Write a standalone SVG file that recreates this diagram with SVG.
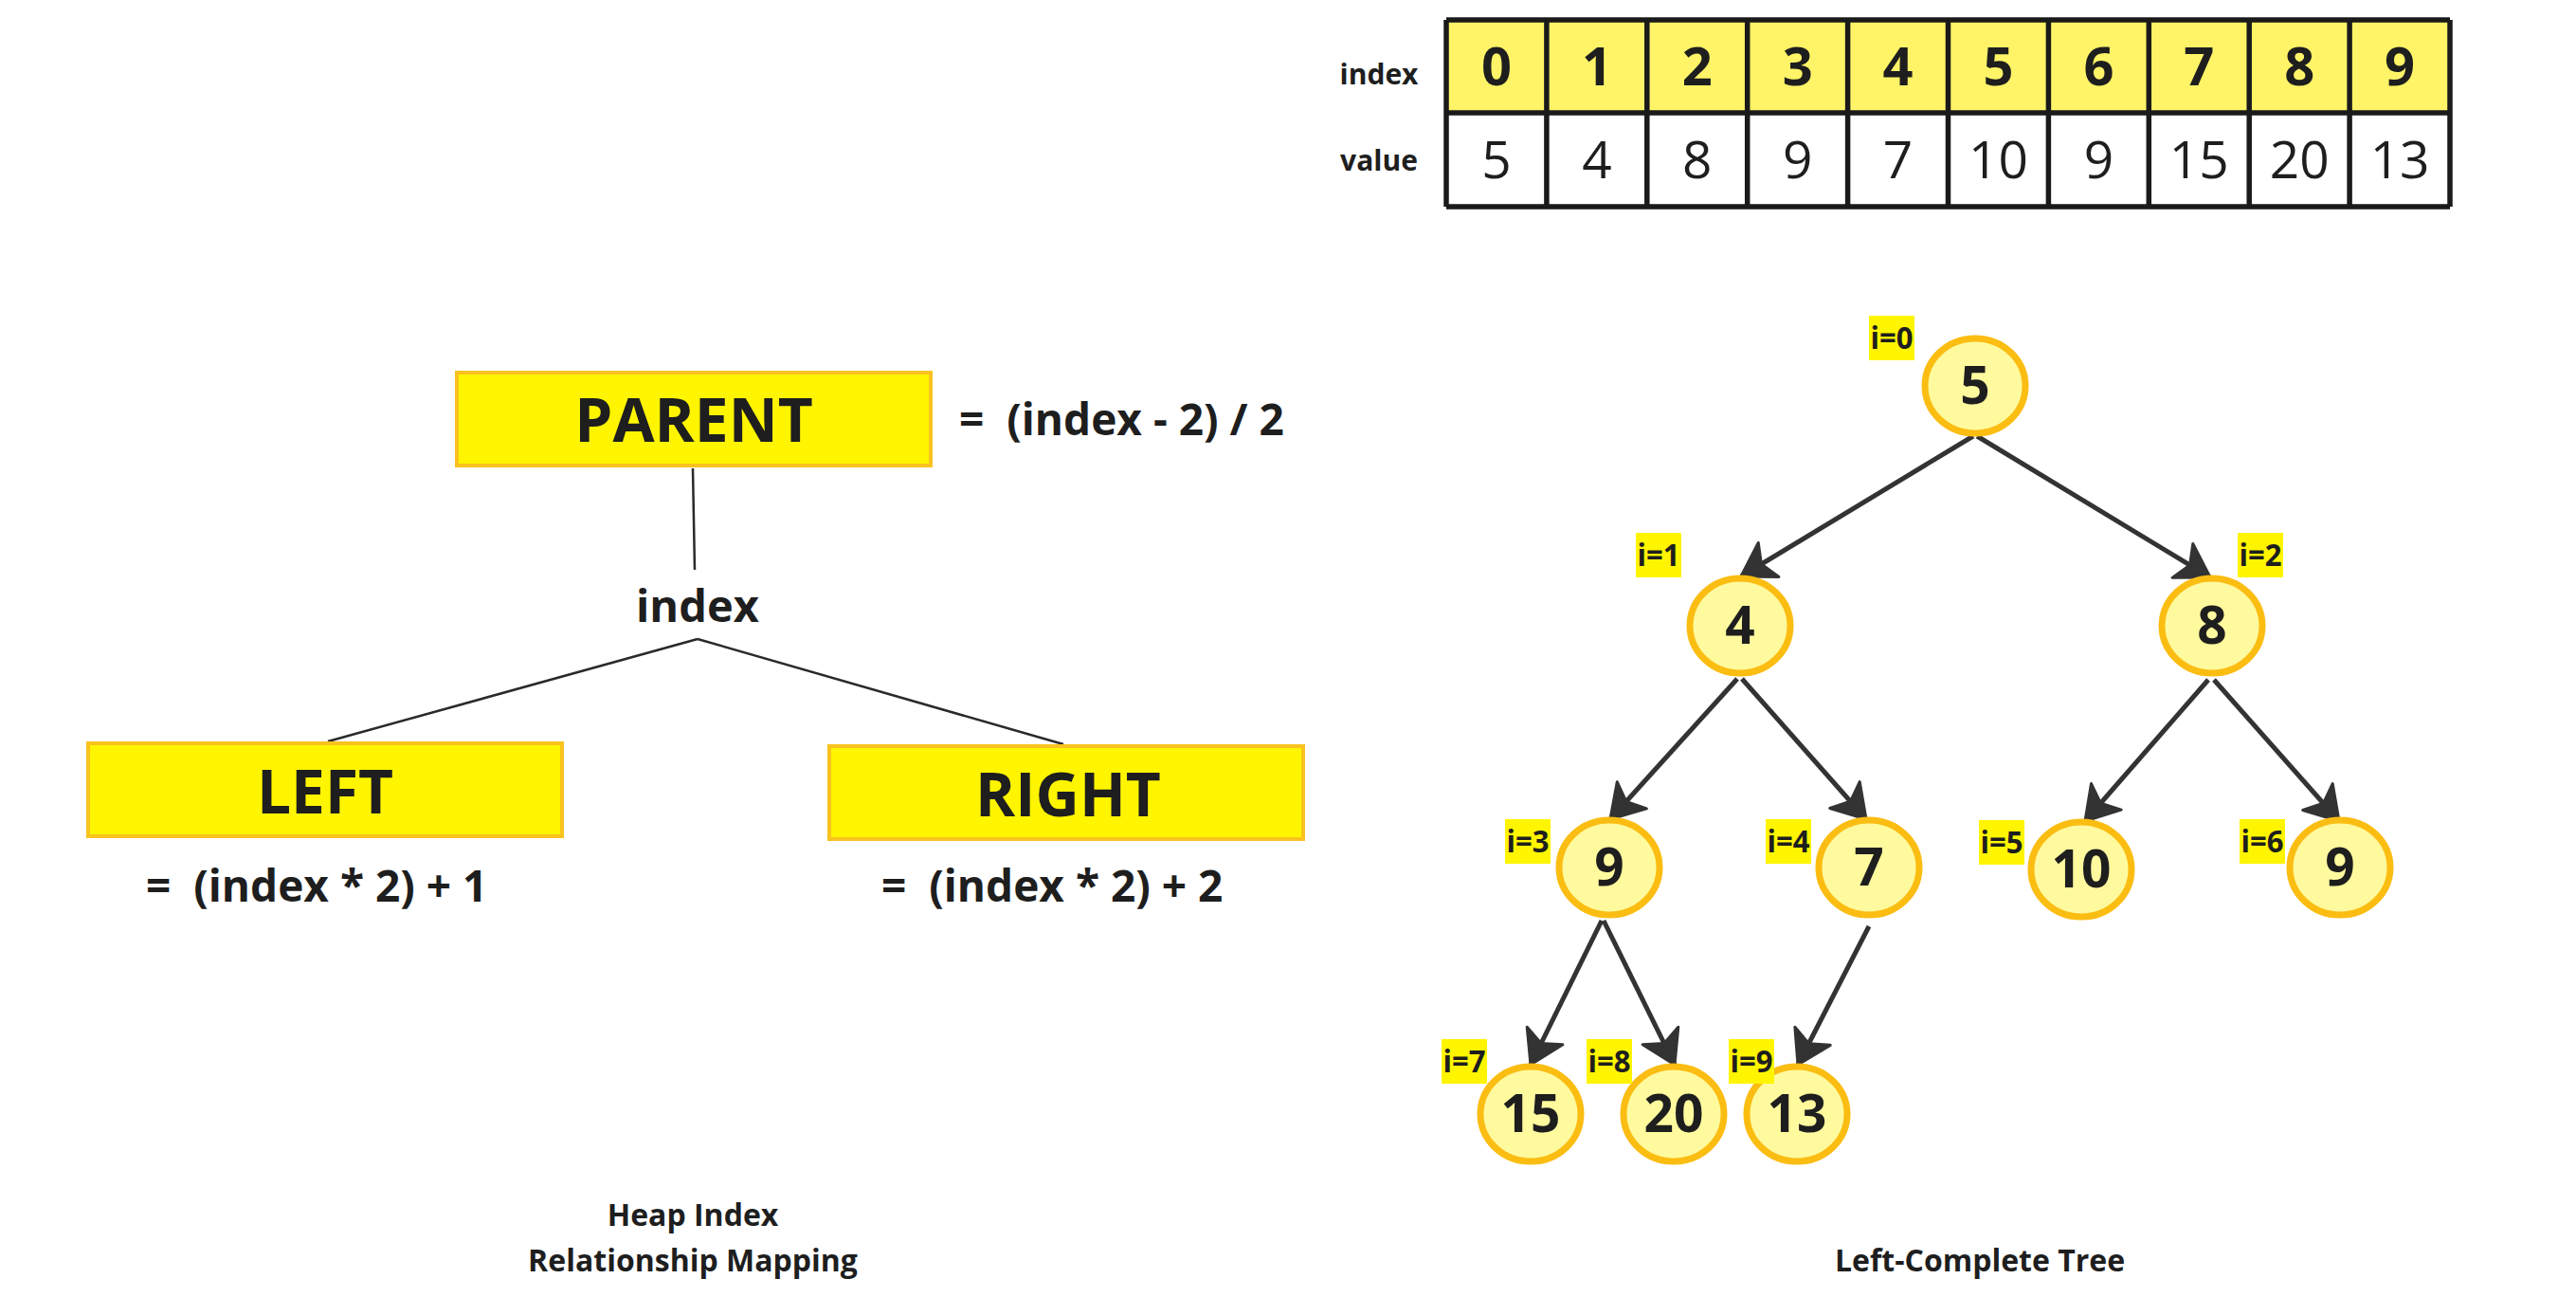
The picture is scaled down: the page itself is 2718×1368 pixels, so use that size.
<svg xmlns="http://www.w3.org/2000/svg" width="2718" height="1368" viewBox="0 0 2718 1368">
<style>
text{font-family:"Open Sans","Noto Sans","Liberation Sans",sans-serif;fill:#1e1e1e}
.b{font-weight:700}
.box{fill:#FFF500;stroke:#F9C21E;stroke-width:4}
.big{font-size:64px;font-weight:700;text-anchor:middle}
.f{font-size:46px;font-weight:700;white-space:pre}
.cap{font-size:32px;font-weight:700;text-anchor:middle}
.grid{stroke:#1a1a1a;stroke-width:5.5;fill:none}
.idx{font-size:56px;font-weight:700;text-anchor:middle}
.val{font-size:55px;font-weight:400;text-anchor:middle}
.lbl{font-size:30px;font-weight:700;text-anchor:middle}
.node ellipse{fill:#FFFA9E;stroke:#FBBD12;stroke-width:7}
.node text{font-size:55px;font-weight:700;text-anchor:middle}
.tag rect{fill:#FFF500}
.tag text{font-size:33px;font-weight:700;text-anchor:middle}
.thin{stroke:#2a2a2a;stroke-width:2.5;fill:none}
.arr{stroke:#333;stroke-width:5;fill:none;marker-end:url(#ah)}
</style>
<defs>
<marker id="ah" markerUnits="userSpaceOnUse" viewBox="-3 -3 42 48" markerWidth="42" markerHeight="48" refX="34" refY="21" orient="auto">
<path d="M0,0 L34,21 L0,42 L9,21 Z" fill="#333" stroke="#333" stroke-width="3" stroke-linejoin="round"/>
</marker>
</defs>
<rect width="2718" height="1368" fill="#fff"/>

<!-- array table -->
<g id="array-table">
<rect x="1526" y="21" width="1059" height="98" fill="#FFF467"/>
<rect x="1526" y="119" width="1059" height="99" fill="#fff"/>
<path class="grid" d="M1526,21 H2585 M1526,119 H2585 M1526,218 H2585 M1526,21 V218 M1631.9,21 V218 M1737.8,21 V218 M1843.7,21 V218 M1949.6,21 V218 M2055.5,21 V218 M2161.4,21 V218 M2267.3,21 V218 M2373.2,21 V218 M2479.1,21 V218 M2585,21 V218"/>
<text class="lbl" x="1455" y="89">index</text>
<text class="lbl" x="1455" y="180">value</text>
<text class="idx" x="1579" y="90">0</text>
<text class="idx" x="1684.9" y="90">1</text>
<text class="idx" x="1790.8" y="90">2</text>
<text class="idx" x="1896.7" y="90">3</text>
<text class="idx" x="2002.6" y="90">4</text>
<text class="idx" x="2108.5" y="90">5</text>
<text class="idx" x="2214.4" y="90">6</text>
<text class="idx" x="2320.3" y="90">7</text>
<text class="idx" x="2426.2" y="90">8</text>
<text class="idx" x="2532.1" y="90">9</text>
<text class="val" x="1579" y="188">5</text>
<text class="val" x="1684.9" y="188">4</text>
<text class="val" x="1790.8" y="188">8</text>
<text class="val" x="1896.7" y="188">9</text>
<text class="val" x="2002.6" y="188">7</text>
<text class="val" x="2108.5" y="188">10</text>
<text class="val" x="2214.4" y="188">9</text>
<text class="val" x="2320.3" y="188">15</text>
<text class="val" x="2426.2" y="188">20</text>
<text class="val" x="2532.1" y="188">13</text>
</g>

<!-- left mapping connectors -->
<g id="mapping-connectors">
<line class="thin" x1="731" y1="494" x2="733" y2="601"/>
<line class="thin" x1="736" y1="674" x2="346" y2="782"/>
<line class="thin" x1="736" y1="674" x2="1122" y2="785"/>
</g>

<g id="parent">
<rect class="box" x="482" y="393" width="500" height="98"/>
<text class="big" x="732" y="466">PARENT</text>
<text class="f" x="1012" y="459" xml:space="preserve">=  (index - 2) / 2</text>
</g>
<g id="index-label">
<text class="b" x="736" y="656" font-size="47" text-anchor="middle">index</text>
</g>
<g id="left">
<rect class="box" x="93" y="784" width="500" height="98"/>
<text class="big" x="343" y="858">LEFT</text>
<text class="f" x="154" y="951" xml:space="preserve">=  (index * 2) + 1</text>
</g>
<g id="right">
<rect class="box" x="875" y="787" width="500" height="98"/>
<text class="big" x="1127" y="861">RIGHT</text>
<text class="f" x="930" y="951" xml:space="preserve">=  (index * 2) + 2</text>
</g>
<g id="caption-left">
<text class="cap" x="731" y="1293">Heap Index</text>
<text class="cap" x="731" y="1341">Relationship Mapping</text>
</g>
<g id="caption-right">
<text class="cap" x="2089" y="1341">Left-Complete Tree</text>
</g>

<!-- tree connectors -->
<g id="tree-connectors">
<line class="arr" x1="2082" y1="460" x2="1837" y2="608"/>
<line class="arr" x1="2086" y1="460" x2="2332" y2="609"/>
<line class="arr" x1="1833" y1="716" x2="1699" y2="864"/>
<line class="arr" x1="1838" y1="716" x2="1969" y2="864"/>
<line class="arr" x1="2330" y1="717" x2="2200" y2="866"/>
<line class="arr" x1="2336" y1="717" x2="2468" y2="866"/>
<line class="arr" x1="1690" y1="971" x2="1615" y2="1123"/>
<line class="arr" x1="1692" y1="971" x2="1767" y2="1123"/>
<line class="arr" x1="1972" y1="977" x2="1897" y2="1123"/>
</g>

<!-- tree nodes -->
<g id="n0" class="node"><ellipse cx="2084" cy="407" rx="53" ry="50"/><text x="2084" y="426">5</text></g>
<g id="n1" class="node"><ellipse cx="1836" cy="660" rx="53" ry="50"/><text x="1836" y="679">4</text></g>
<g id="n2" class="node"><ellipse cx="2334" cy="660" rx="53" ry="50"/><text x="2334" y="679">8</text></g>
<g id="n3" class="node"><ellipse cx="1698" cy="915" rx="53" ry="50"/><text x="1698" y="934">9</text></g>
<g id="n4" class="node"><ellipse cx="1972" cy="915" rx="53" ry="50"/><text x="1972" y="934">7</text></g>
<g id="n5" class="node"><ellipse cx="2196" cy="917" rx="53" ry="50"/><text x="2196" y="936">10</text></g>
<g id="n6" class="node"><ellipse cx="2469" cy="915" rx="53" ry="50"/><text x="2469" y="934">9</text></g>
<g id="n7" class="node"><ellipse cx="1615" cy="1175" rx="53" ry="50"/><text x="1615" y="1194">15</text></g>
<g id="n8" class="node"><ellipse cx="1766" cy="1175" rx="53" ry="50"/><text x="1766" y="1194">20</text></g>
<g id="n9" class="node"><ellipse cx="1896" cy="1175" rx="53" ry="50"/><text x="1896" y="1194">13</text></g>

<!-- index tags -->
<g id="t0" class="tag"><rect x="1972" y="333" width="48" height="47"/><text x="1996" y="368" textLength="45" lengthAdjust="spacingAndGlyphs">i=0</text></g>
<g id="t1" class="tag"><rect x="1726" y="562" width="48" height="47"/><text x="1750" y="597" textLength="45" lengthAdjust="spacingAndGlyphs">i=1</text></g>
<g id="t2" class="tag"><rect x="2361" y="562" width="48" height="47"/><text x="2385" y="597" textLength="45" lengthAdjust="spacingAndGlyphs">i=2</text></g>
<g id="t3" class="tag"><rect x="1588" y="864" width="48" height="47"/><text x="1612" y="899" textLength="45" lengthAdjust="spacingAndGlyphs">i=3</text></g>
<g id="t4" class="tag"><rect x="1863" y="864" width="48" height="47"/><text x="1887" y="899" textLength="45" lengthAdjust="spacingAndGlyphs">i=4</text></g>
<g id="t5" class="tag"><rect x="2088" y="865" width="48" height="47"/><text x="2112" y="900" textLength="45" lengthAdjust="spacingAndGlyphs">i=5</text></g>
<g id="t6" class="tag"><rect x="2363" y="864" width="48" height="47"/><text x="2387" y="899" textLength="45" lengthAdjust="spacingAndGlyphs">i=6</text></g>
<g id="t7" class="tag"><rect x="1521" y="1096" width="48" height="47"/><text x="1545" y="1131" textLength="45" lengthAdjust="spacingAndGlyphs">i=7</text></g>
<g id="t8" class="tag"><rect x="1674" y="1096" width="48" height="47"/><text x="1698" y="1131" textLength="45" lengthAdjust="spacingAndGlyphs">i=8</text></g>
<g id="t9" class="tag"><rect x="1824" y="1096" width="48" height="47"/><text x="1848" y="1131" textLength="45" lengthAdjust="spacingAndGlyphs">i=9</text></g>
</svg>
